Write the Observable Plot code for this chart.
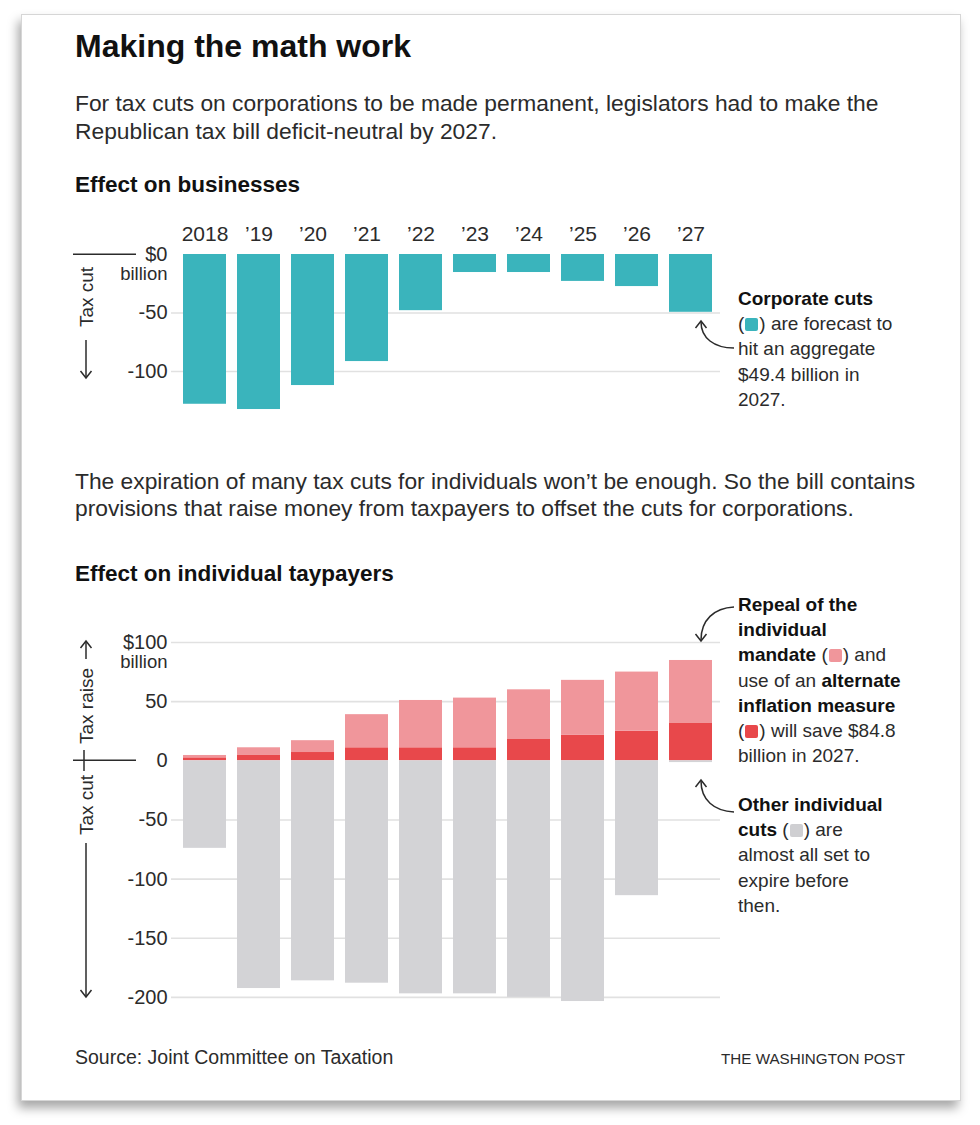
<!DOCTYPE html>
<html><head><meta charset="utf-8">
<script src="https://cdn.jsdelivr.net/npm/d3@7"></script>
<script src="https://cdn.jsdelivr.net/npm/@observablehq/plot@0.6"></script>
<style>
body{margin:0;background:#fff;font-family:"Liberation Sans",Arial,sans-serif;color:#2b2b2b}
#page{position:relative;width:980px;height:1125px;overflow:hidden;background:#fff}
#card{position:absolute;left:21px;top:14px;width:938px;height:1085px;background:#fff;border:1px solid #d6d6d6;box-shadow:-3px 7px 10px rgba(0,0,0,0.35)}
.t{position:absolute;white-space:nowrap}
.title{left:75px;top:27px;font-size:32px;font-weight:bold;line-height:38px;color:#111}
.body{left:75px;font-size:22.8px;line-height:28px;color:#2b2b2b}
.head{left:75px;font-size:22.5px;font-weight:bold;line-height:28px;color:#111}
.ann{font-size:19px;line-height:25.2px;color:#2b2b2b;left:738px}
.ann b{color:#111}
.sw{display:inline-block;width:13px;height:13px;border-radius:2px;vertical-align:-1px;margin:0 1px}
.foot{font-size:19.5px;line-height:24px;color:#2b2b2b}
.plot{position:absolute;left:0}
#overlay{position:absolute;left:0;top:0;pointer-events:none}
</style>
</head><body>
<div id="page">
  <div id="card"></div>
  <div class="t title">Making the math work</div>
  <div class="t body" style="top:89px">For tax cuts on corporations to be made permanent, legislators had to make the<br>Republican tax bill deficit-neutral by 2027.</div>
  <div class="t head" style="top:171px">Effect on businesses</div>
  <div class="t body" style="top:468px;line-height:26.5px">The expiration of many tax cuts for individuals won’t be enough. So the bill contains<br>provisions that raise money from taxpayers to offset the cuts for corporations.</div>
  <div class="t head" style="top:560px">Effect on individual taypayers</div>
  <div id="chart1" class="plot" style="top:200px"></div>
  <div id="chart2" class="plot" style="top:620px"></div>
  <div class="t ann" style="top:286px"><b>Corporate cuts</b><br>(<span class="sw" style="background:#3ab4bc"></span>) are forecast to<br>hit an aggregate<br>$49.4 billion in<br>2027.</div>
  <div class="t ann" style="top:592px"><b>Repeal of the</b><br><b>individual</b><br><b>mandate</b> (<span class="sw" style="background:#f0969b"></span>) and<br>use of an <b>alternate</b><br><b>inflation measure</b><br>(<span class="sw" style="background:#e8484b"></span>) will save $84.8<br>billion in 2027.</div>
  <div class="t ann" style="top:792px"><b>Other individual</b><br><b>cuts</b> (<span class="sw" style="background:#cfcfd2"></span>) are<br>almost all set to<br>expire before<br>then.</div>
  <div class="t foot" style="left:75px;top:1045px">Source: Joint Committee on Taxation</div>
  <div class="t foot" style="right:75px;top:1047px;font-size:15.2px;letter-spacing:0px">THE WASHINGTON POST</div>
  <svg id="overlay" width="980" height="1125"></svg>
</div>
<script>
// ---- data ----
const years = ["2018","2019","2020","2021","2022","2023","2024","2025","2026","2027"];
const yearLabels = ["2018","’19","’20","’21","’22","’23","’24","’25","’26","’27"];
const corporateCuts = [-128, -132.5, -112, -91.5, -48, -15.4, -15.4, -23, -27.4, -49.4];
const inflationMeasure = [2.5, 4.5, 7, 11, 11, 11, 18, 21.5, 25, 32];
const individualMandate = [2, 6.5, 10, 28, 40, 42, 42, 46.5, 50, 52.8];
const otherIndividualCuts = [-74, -192.5, -186, -188, -197, -197, -200, -203.5, -114, -1.5];
const topTicks = [0, -50, -100];
const topTickLabels = ["$0", "-50", "-100"];
const bottomTicks = [100, 50, 0, -50, -100, -150, -200];
const bottomTickLabels = ["$100", "50", "0", "-50", "-100", "-150", "-200"];
const seriesNames = ["inflation", "mandate", "other"];

// ---- styles ----
const FONT = "'Liberation Sans', Arial, sans-serif";
const TEAL = "#3ab4bc", PINK = "#f0969b", RED = "#e8484b", GRAY = "#d3d3d6", GRID = "#e1e1e1";
const XRANGE = [167, 728];

const corpRows = years.map((y, i) => ({year: y, value: corporateCuts[i]}));
const indRows = [];
years.forEach((y, i) => {
  indRows.push({year: y, type: "inflation", value: inflationMeasure[i]});
  indRows.push({year: y, type: "mandate", value: individualMandate[i]});
  indRows.push({year: y, type: "other", value: otherIndividualCuts[i]});
});

// chart 1
const h1 = 230, mt1 = 54, ppu1 = 1.17, ylo1 = -140;
const p1 = Plot.plot({
  width: 980, height: h1,
  marginTop: mt1, marginBottom: h1 - mt1 - (-ylo1) * ppu1, marginLeft: 171, marginRight: 260,
  x: {domain: years, range: XRANGE, padding: 0.21, label: null},
  y: {domain: [ylo1, 0], label: null},
  style: {fontFamily: FONT, color: "#2b2b2b", background: "transparent", overflow: "visible"},
  marks: [
    Plot.gridY([-50, -100], {stroke: GRID, strokeOpacity: 1, strokeWidth: 1.6}),
    Plot.barY(corpRows, {x: "year", y: "value", fill: TEAL}),
    Plot.axisX({anchor: "top", label: null, tickSize: 0, tickPadding: 14, fontSize: 21, tickFormat: d => yearLabels[years.indexOf(d)]}),
    Plot.axisY(topTicks, {anchor: "left", label: null, tickSize: 0, tickPadding: 4, fontSize: 20, tickFormat: d => topTickLabels[topTicks.indexOf(d)]}),
    Plot.text([0], {y: d => d, text: () => "billion", frameAnchor: "left", textAnchor: "end", dx: -4, dy: 20, fontSize: 18.5, fill: "#2b2b2b"})
  ]
});
document.getElementById("chart1").appendChild(p1);

// chart 2
const h2 = 400, zero2 = 140.3, ppu2 = 1.183, yhi2 = 105, ylo2 = -215;
const mt2 = zero2 - yhi2 * ppu2;
const p2 = Plot.plot({
  width: 980, height: h2,
  marginTop: mt2, marginBottom: h2 - mt2 - (yhi2 - ylo2) * ppu2, marginLeft: 171, marginRight: 260,
  x: {domain: years, range: XRANGE, padding: 0.21, axis: null, label: null},
  y: {domain: [ylo2, yhi2], label: null},
  color: {domain: seriesNames, range: [RED, PINK, GRAY]},
  style: {fontFamily: FONT, color: "#2b2b2b", background: "transparent", overflow: "visible"},
  marks: [
    Plot.gridY([100, 50, -50, -100, -150, -200], {stroke: GRID, strokeOpacity: 1, strokeWidth: 1.6}),
    Plot.barY(indRows, {x: "year", y: "value", fill: "type", order: seriesNames}),
    Plot.axisY(bottomTicks, {anchor: "left", label: null, tickSize: 0, tickPadding: 4, fontSize: 20, tickFormat: d => bottomTickLabels[bottomTicks.indexOf(d)]}),
    Plot.text([100], {y: d => d, text: () => "billion", frameAnchor: "left", textAnchor: "end", dx: -4, dy: 20, fontSize: 18.5, fill: "#2b2b2b"})
  ]
});
document.getElementById("chart2").appendChild(p2);

// overlay: axis brackets, rotated labels and annotation arrows
const svg = d3.select("#overlay");
const ink = "#2b2b2b";
function line(x1, y1, x2, y2, w = 1.5) {
  svg.append("line").attr("x1", x1).attr("y1", y1).attr("x2", x2).attr("y2", y2)
    .attr("stroke", ink).attr("stroke-width", w);
}
function rtext(x, y, s) {
  svg.append("text").attr("transform", `translate(${x},${y}) rotate(-90)`)
    .attr("text-anchor", "middle").attr("dominant-baseline", "central")
    .attr("font-family", FONT).attr("font-size", 19).attr("fill", ink).text(s);
}
function head(x, y, dir) { // dir: -1 up, 1 down
  svg.append("path").attr("d", `M${x - 5.5},${y - dir * 7} L${x},${y} L${x + 5.5},${y - dir * 7}`)
    .attr("fill", "none").attr("stroke", ink).attr("stroke-width", 1.5);
}
// top chart
line(73, 254.3, 136, 254.3);
rtext(86, 297, "Tax cut");
line(86, 340, 86, 377); head(86, 378, 1);
// bottom chart
line(73, 760.3, 136, 760.3);
line(84, 750, 84, 771);
rtext(86, 706, "Tax raise");
line(86, 642, 86, 659); head(86, 641, -1);
rtext(86, 805, "Tax cut");
line(86, 843, 86, 996); head(86, 997, 1);
// annotation arrows
function curve(d) {
  svg.append("path").attr("d", d).attr("fill", "none").attr("stroke", ink).attr("stroke-width", 1.5);
}
curve("M734,348 C714,348 701,338 701,322"); head(701, 321, -1);
curve("M734,607 C714,608 701,620 701,640"); head(701, 641, 1);
curve("M734,812 C714,811 701,800 701,781"); head(701, 780, -1);
</script>
</body></html>
